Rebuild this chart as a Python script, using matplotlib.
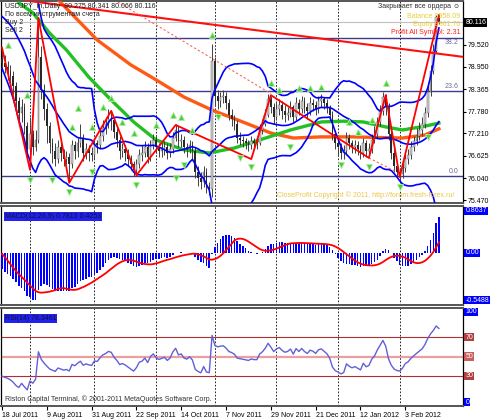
import numpy as np
import pandas as pd
import matplotlib
matplotlib.use('Agg')
import matplotlib.pyplot as plt

plt.rcParams['font.family'] = ['Liberation Sans', 'DejaVu Sans']

# USDJPY daily, 18 Jul 2011 .. 21 Feb 2012 (bar index 0..156)
warmup_close = [80.10, 80.10, 80.05, 80.30, 80.35, 80.20, 80.25, 80.95, 80.60, 80.05,
                80.20, 80.30, 80.35, 80.40, 80.40, 80.75, 80.60, 80.75, 80.50, 80.85,
                80.85, 80.90, 80.85, 81.20, 80.65, 80.10, 79.30, 79.20, 79.15, 79.15]

close = [79.05, 78.95, 78.85, 78.70, 78.45, 78.05, 77.75, 77.90, 77.40, 76.80,
         77.20, 76.85, 77.05, 79.20, 78.35, 77.85, 77.40, 76.95, 76.75, 76.55,
         76.85, 76.70, 76.55, 76.60, 76.40, 76.90, 76.75, 76.95, 77.10, 76.70,
         76.80, 76.70, 76.65, 76.95, 76.90, 77.15, 77.35, 77.45, 77.60, 77.55,
         77.25, 77.05, 76.75, 76.80, 76.70, 76.55, 76.40, 76.25, 76.40, 76.65,
         76.70, 76.85, 76.60, 76.90, 77.05, 76.85, 76.75, 76.80, 76.85, 76.70,
         76.80, 77.10, 77.30, 77.00, 77.05, 76.85, 76.80, 76.90, 76.75, 76.20,
         76.05, 75.95, 76.20, 75.80, 75.75, 79.10, 78.20, 78.05, 78.15, 78.20,
         78.00, 77.70, 77.60, 77.45, 77.10, 77.05, 77.00, 76.95, 76.90, 77.00,
         76.95, 76.95, 77.30, 77.45, 77.70, 78.10, 77.90, 77.65, 77.85, 77.95,
         77.80, 77.70, 77.75, 77.90, 77.65, 78.00, 77.85, 78.05, 77.90, 77.80,
         78.00, 77.95, 77.85, 78.05, 78.10, 78.00, 77.90, 77.70, 77.20, 76.95,
         76.85, 76.70, 76.75, 77.10, 76.95, 76.85, 76.90, 76.80, 76.70, 76.95,
         76.75, 76.80, 77.05, 77.20, 77.50, 77.80, 78.15, 77.90, 77.20, 76.70,
         76.35, 76.20, 76.15, 76.30, 76.55, 76.65, 76.85, 77.00, 77.15, 77.30,
         77.45, 77.75, 78.30, 78.85, 79.35, 80.25, 80.116]

high = [79.35, 79.25, 79.10, 79.00, 78.85, 78.55, 78.15, 78.10, 78.00, 77.50,
        77.65, 77.30, 77.30, 80.25, 79.50, 78.50, 78.00, 77.50, 77.10, 76.95,
        77.05, 76.95, 76.80, 76.75, 76.70, 77.05, 77.00, 77.10, 77.45, 77.20,
        76.95, 76.90, 76.85, 77.10, 77.05, 77.30, 77.55, 77.65, 77.85, 77.80,
        77.65, 77.35, 77.15, 76.95, 76.90, 76.80, 76.65, 76.50, 76.55, 76.80,
        76.90, 77.00, 76.95, 77.05, 77.20, 77.15, 76.95, 76.95, 77.00, 76.95,
        76.95, 77.25, 77.45, 77.40, 77.20, 77.15, 76.95, 77.05, 77.00, 76.85,
        76.35, 76.20, 76.35, 76.30, 75.95, 79.55, 79.20, 78.35, 78.30, 78.35,
        78.30, 78.10, 77.85, 77.70, 77.55, 77.25, 77.15, 77.10, 77.05, 77.15,
        77.10, 77.10, 77.45, 77.60, 77.85, 78.25, 78.20, 78.00, 78.05, 78.10,
        78.05, 77.95, 77.90, 78.05, 77.95, 78.15, 78.10, 78.20, 78.15, 78.00,
        78.15, 78.10, 78.05, 78.20, 78.25, 78.15, 78.10, 77.95, 77.80, 77.30,
        77.05, 76.95, 76.90, 77.25, 77.20, 77.05, 77.05, 77.00, 76.90, 77.10,
        77.05, 76.95, 77.20, 77.40, 77.65, 77.95, 78.30, 78.25, 78.00, 77.30,
        76.80, 76.45, 76.30, 76.45, 76.70, 76.80, 77.00, 77.15, 77.35, 77.50,
        77.65, 77.90, 78.45, 79.00, 79.55, 80.30, 80.341]

low = [78.85, 78.80, 78.60, 78.50, 78.25, 77.90, 77.55, 77.50, 77.20, 76.60,
       76.30, 76.65, 76.75, 76.95, 78.10, 77.55, 76.95, 76.70, 76.45, 76.35,
       76.45, 76.50, 76.35, 76.40, 75.95, 76.30, 76.55, 76.60, 76.85, 76.50,
       76.55, 76.50, 76.50, 76.55, 76.70, 76.80, 77.00, 77.20, 77.35, 77.30,
       77.10, 76.85, 76.55, 76.60, 76.50, 76.35, 76.25, 76.10, 76.10, 76.30,
       76.50, 76.60, 76.45, 76.50, 76.80, 76.70, 76.60, 76.60, 76.65, 76.55,
       76.60, 76.70, 77.00, 76.85, 76.85, 76.70, 76.60, 76.70, 76.55, 76.05,
       75.85, 75.75, 75.80, 75.65, 75.60, 75.55, 77.95, 77.85, 77.90, 78.00,
       77.85, 77.55, 77.40, 77.30, 76.95, 76.90, 76.85, 76.80, 76.75, 76.80,
       76.80, 76.80, 76.90, 77.20, 77.40, 77.65, 77.75, 77.45, 77.55, 77.70,
       77.60, 77.50, 77.55, 77.65, 77.50, 77.55, 77.70, 77.75, 77.75, 77.60,
       77.70, 77.80, 77.70, 77.75, 77.90, 77.85, 77.75, 77.55, 77.05, 76.80,
       76.65, 76.55, 76.55, 76.65, 76.80, 76.70, 76.70, 76.65, 76.55, 76.60,
       76.60, 76.60, 76.70, 76.95, 77.10, 77.40, 77.70, 77.70, 77.05, 76.55,
       76.20, 76.05, 75.95, 76.05, 76.20, 76.40, 76.55, 76.75, 76.90, 77.05,
       77.15, 77.35, 77.65, 78.20, 78.75, 79.30, 80.066]

date_ticks = [0, 16, 32, 48, 64, 80, 96, 112, 128, 144]
date_labels = ['18 Jul 2011', '9 Aug 2011', '31 Aug 2011', '22 Sep 2011', '14 Oct 2011',
               '7 Nov 2011', '29 Nov 2011', '21 Dec 2011', '12 Jan 2012', '3 Feb 2012']
month_starts = [10, 33, 55, 76, 98, 120, 142]

price_ticks = [79.520, 78.950, 78.365, 77.780, 77.210, 76.625, 76.040, 75.470]

# moving averages (bar, price)
ma_green_x = [6, 11, 17, 23, 31, 39, 47, 55, 65, 74, 83, 92, 103, 114, 122, 129, 137, 143, 151, 156]
ma_green_y = [80.62, 80.36, 79.83, 79.39, 78.68, 78.08, 77.51, 77.04, 76.78, 76.70,
              76.83, 77.04, 77.30, 77.51, 77.53, 77.51, 77.38, 77.30, 77.40, 77.48]
ma_orange_x = [17, 20, 34, 46, 55, 65, 75, 87, 96, 104, 114, 125, 143, 151, 156]
ma_orange_y = [80.83, 80.70, 79.65, 79.00, 78.61, 78.16, 77.82, 77.48, 77.22, 77.09,
               77.12, 77.12, 77.09, 77.17, 77.33]

zigzag_x = [0, 10, 13, 24, 39, 48, 62, 89, 96, 131, 137, 142, 156]
zigzag_y = [79.45, 76.26, 80.23, 75.92, 77.80, 76.12, 77.43, 76.54, 78.21, 76.57, 78.21, 76.07, 80.30]
trend_x, trend_y = [0, 164.6], [80.76, 79.21]
dotted1_x, dotted1_y = [40, 96], [80.70, 78.25]
dotted2_x, dotted2_y = [131, 141], [76.57, 76.20]

fib_levels = [79.70, 78.32, 76.10]
fib_labels = ['38.2', '23.6', '0.0']
bid = 80.116

arrow_up_x = [2, 9, 25, 27, 32, 36, 39, 43, 47, 55, 61, 64, 68, 75, 96, 99, 106, 110, 114, 124, 127, 132, 137]
arrow_up_y = [79.52, 78.21, 77.38, 77.87, 77.38, 77.90, 78.14, 77.51, 77.22, 77.43, 77.69, 77.64,
              77.30, 79.78, 78.53, 78.34, 78.40, 78.40, 78.42, 77.51, 77.25, 77.56, 78.53]
arrow_dn_x = [10, 18, 24, 32, 48, 62, 65, 77, 85, 89, 103, 121, 131, 142, 152]
arrow_dn_y = [75.99, 75.99, 75.68, 76.20, 75.86, 76.05, 76.39, 77.64, 76.57, 76.33, 76.86,
              76.39, 76.33, 75.81, 77.12]

# indicators from the closes
n = len(close)
s = pd.Series(warmup_close + close)
mid = s.rolling(20).mean()
sd = s.rolling(20).std(ddof=0)
bb_up = (mid + 2 * sd).values[-n:]
bb_lo = (mid - 2 * sd).values[-n:]
bb_mid = mid.values[-n:]
macd = s.ewm(span=12, adjust=False).mean() - s.ewm(span=26, adjust=False).mean()
signal = macd.rolling(9).mean()
macd = macd.values[-n:]
signal = signal.values[-n:]
delta = s.diff()
gain = delta.clip(lower=0).ewm(alpha=1 / 14, adjust=False).mean()
loss = (-delta.clip(upper=0)).ewm(alpha=1 / 14, adjust=False).mean()
rsi = (100 - 100 / (1 + gain / loss)).values[-n:]

idx = np.arange(n)
opn = np.array([warmup_close[-1]] + close[:-1])
cl = np.array(close)

W, H = 490, 420
fs = 5.0
fig = plt.figure(figsize=(4.9, 4.2), dpi=100)
fig.patch.set_facecolor('white')


def px_axes(top, bottom):
    return fig.add_axes([1 / W, 1 - bottom / H, 462 / W, (bottom - top) / H])


ax = px_axes(1, 203)
axm = px_axes(206, 305)
axr = px_axes(308, 406)

for a in (ax, axm, axr):
    a.set_xlim(-0.36, 164.6)
    a.set_facecolor('white')
    for m in month_starts:
        a.axvline(m, color='black', lw=0.6, ls=(0, (2, 2)), zorder=1)
    a.yaxis.tick_right()
    a.tick_params(axis='y', labelsize=fs, length=2, pad=1.5)
    a.tick_params(axis='x', bottom=False, labelbottom=False)
    for side in ('top', 'bottom'):
        a.spines[side].set_color('#555555')
        a.spines[side].set_linewidth(1.4)
    a.spines['right'].set_linewidth(0.9)
    a.spines['left'].set_linewidth(0.9)

# main panel
ax.set_ylim(75.393, 80.669)
ax.set_yticks(price_ticks)
ax.set_yticklabels(['%.3f' % v for v in price_ticks])
ax.axhline(bid, color='#c0c0c0', lw=0.8, zorder=1)
for lv in fib_levels:
    ax.axhline(lv, color='#3c3c8c', lw=1.0, zorder=2)
for lv, lb in zip(fib_levels, fib_labels):
    # the 38.2 label sits just under its line, the others just above
    below = lb == '38.2'
    ax.text(163, lv - 0.03 if below else lv + 0.03, lb, fontsize=fs, color='#6a6aa0',
            ha='right', va='top' if below else 'bottom', zorder=6)

ax.plot(ma_orange_x, ma_orange_y, color='#ff5a14', lw=2.4, zorder=3)
ax.plot(ma_green_x, ma_green_y, color='#22c022', lw=2.4, zorder=3)

up = cl >= opn
ax.vlines(idx, low, high, color='#404040', lw=0.7, zorder=4)
ax.bar(idx[up], (cl - opn)[up], bottom=opn[up], width=0.6, color='#d0d0d0', edgecolor='#505050', lw=0.3, zorder=4)
ax.bar(idx[~up], (opn - cl)[~up], bottom=cl[~up], width=0.6, color='#282828', zorder=4)

ax.plot(idx, bb_up, color='#0000ff', lw=1.2, zorder=5)
ax.plot(idx, bb_mid, color='#0000ff', lw=1.2, zorder=5)
ax.plot(idx, bb_lo, color='#0000ff', lw=1.2, zorder=5)

ax.plot(trend_x, trend_y, color='#ff1010', lw=1.5, zorder=5)
ax.plot(dotted1_x, dotted1_y, color='#ff6060', lw=0.8, ls=(0, (2, 2)), zorder=5)
ax.plot(dotted2_x, dotted2_y, color='#ff6060', lw=0.8, ls=(0, (2, 2)), zorder=5)
ax.plot(zigzag_x, zigzag_y, color='#ff0000', lw=1.3, zorder=5)

ax.plot(arrow_up_x, arrow_up_y, ls='none', marker='^', ms=5, mfc='#4ccc3c', mec='#a8f098', mew=0.6, zorder=6)
ax.plot(arrow_dn_x, arrow_dn_y, ls='none', marker='v', ms=5, mfc='#4ccc3c', mec='#a8f098', mew=0.6, zorder=6)

ax.text(1.005, bid, '80.116', transform=ax.get_yaxis_transform(), fontsize=fs, color='white',
        va='center', ha='left', bbox=dict(boxstyle='square,pad=0.15', fc='black', ec='none'))

# MACD panel: zero line 47 px below the top of a 99 px panel
k = max(np.nanmax(macd) / 43, -np.nanmin(macd) / 47)
axm.set_ylim(-52 * k, 47 * k)
axm.set_yticks([])
axm.bar(idx, macd, width=0.55, color='#0000ff', zorder=3)
axm.plot(idx, signal, color='#ff0000', lw=1.3, zorder=4)
box = dict(boxstyle='square,pad=0.12', fc='#0000ff', ec='none')
axm.text(1.005, 0.95, '0.8637', transform=axm.transAxes, fontsize=fs, color='white', va='center', bbox=box)
axm.text(1.005, 0.0, '0.00', transform=axm.get_yaxis_transform(), fontsize=fs, color='white', va='center', bbox=box)
axm.text(1.005, 0.05, '-0.5488', transform=axm.transAxes, fontsize=fs, color='white', va='center', bbox=box)
axm.text(0.008, 0.895, 'MACD(12,26,9) 0.7813 0.4253', transform=axm.transAxes, fontsize=fs,
         color='#101030', va='center', bbox=dict(boxstyle='square,pad=0.15', fc='#2222ee', ec='none'))

# RSI panel
axr.set_ylim(-1, 100)
axr.set_yticks([])
axr.axhline(70, color='#b03030', lw=0.8, zorder=2)
axr.axhline(30, color='#b03030', lw=0.8, zorder=2)
axr.axhline(50, color='#eaa0a0', lw=1.6, zorder=2)
axr.plot(idx, rsi, color='#6060d8', lw=1.0, zorder=4)
for lv, fc in ((100, '#0000ff'), (70, '#b04040'), (50, '#c86060'), (30, '#b04040'), (0, '#0000ff')):
    yy = min(max(lv, 3), 96)
    axr.text(1.005, yy, str(lv), transform=axr.get_yaxis_transform(), fontsize=fs, color='white',
             va='center', bbox=dict(boxstyle='square,pad=0.12', fc=fc, ec='none'))
axr.text(0.008, 0.89, 'RSI(14) 78.3461', transform=axr.transAxes, fontsize=fs, color='#101030',
         va='center', bbox=dict(boxstyle='square,pad=0.15', fc='#2222ee', ec='none'))
axr.text(0.008, 0.07, 'Riston Capital Terminal, © 2001-2011 MetaQuotes Software Corp.',
         transform=axr.transAxes, fontsize=fs, color='#303030', va='center')
axr.set_xticks(date_ticks)
axr.set_xticklabels(date_labels, ha='left')
axr.tick_params(axis='x', bottom=True, labelbottom=True, labelsize=fs, length=3, pad=1)


def ftext(x, y, s, **kw):
    fig.text(x / W, 1 - y / H, s, va='center', fontsize=fs, **kw)


ftext(5, 7, 'USDJPY_m,Daily  80.275 80.341 80.066 80.116', color='#202020')
ftext(5, 15, 'По всем инструментам счета', color='#202020')
ftext(5, 23, 'Buy 2', color='#202020')
ftext(5, 31, 'Sell 2', color='#202020')
ftext(460, 7, 'Закрывает все ордера ☺', color='#303030', ha='right')
ftext(460, 16, 'Balance 9958.09', color='#e6cf3c', ha='right')
ftext(460, 24, 'Equity 9961.70', color='#e6cf3c', ha='right')
ftext(460, 32, 'Profit All Symbol: 2.31', color='#ff2020', ha='right')
ftext(277, 195, 'CloseProfit Copyright © 2011, http://forum.fresh-forex.ru/', color='#e8c840')

fig.savefig('out.png', dpi=100)
